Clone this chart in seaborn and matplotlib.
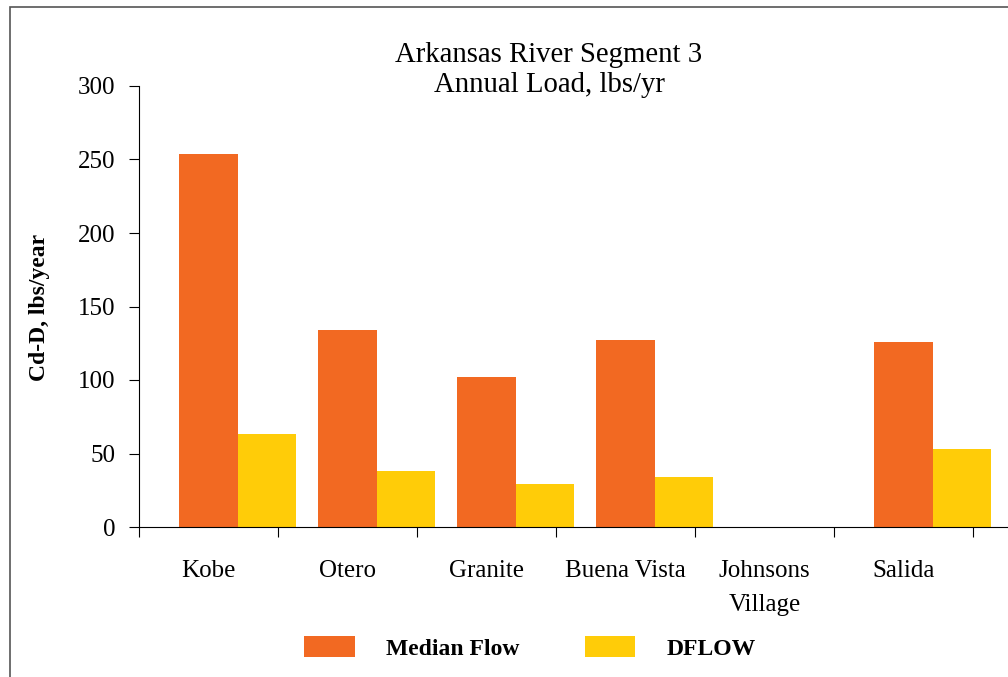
import numpy as np
import pandas as pd
import matplotlib
matplotlib.use("Agg")
import matplotlib.pyplot as plt
from matplotlib.patches import Patch, Rectangle
import seaborn as sns

# Annual cadmium (dissolved) load per monitoring site
sites = ["Kobe", "Otero", "Granite", "Buena Vista", "Johnsons\nVillage", "Salida"]
median_flow = [254, 134, 102, 127, np.nan, 126]
dflow = [63, 38, 29.5, 34, np.nan, 53]
series_names = ["Median Flow", "DFLOW"]
series_colors = ["#F26922", "#FFCC08"]
y_ticks = [0, 50, 100, 150, 200, 250, 300]

sns.set_theme(style="ticks")
plt.rcParams["font.family"] = ["Liberation Serif", "DejaVu Serif"]
plt.rcParams["text.color"] = "black"
plt.rcParams["xtick.color"] = "black"
plt.rcParams["ytick.color"] = "black"
plt.rcParams["xtick.labelcolor"] = "black"
plt.rcParams["ytick.labelcolor"] = "black"

W, H = 1008, 677
fig = plt.figure(figsize=(W / 100, H / 100), dpi=100)
ax = fig.add_axes([139 / W, 1 - 527 / H, (1112 - 139) / W, 441 / H])

bar_w = 0.42
pos = np.arange(len(sites))
frames = []
for k, (name, vals) in enumerate(zip(series_names, [median_flow, dflow])):
    frames.append(pd.DataFrame({"pos": pos + k * bar_w, "value": vals, "series": name}))
df = pd.concat(frames, ignore_index=True)

for name, color in zip(series_names, series_colors):
    sub = df[df["series"] == name].dropna()
    sns.barplot(data=sub, x="pos", y="value", native_scale=True, color=color,
                width=bar_w, linewidth=0, saturation=1, errorbar=None, ax=ax)

ax.set_xlim(-0.5, 6.5)
ax.set_ylim(0, 300)
ax.set_yticks(y_ticks)
ax.set_yticklabels([str(v) for v in y_ticks], fontsize=18)
ax.set_xticks(np.arange(-0.5, 7, 1))
ax.set_xticklabels([])
ax.set_xticks(pos, minor=True)
ax.set_xticklabels(sites, minor=True, fontsize=18, linespacing=1.72)
ax.tick_params(axis="x", which="major", length=7, width=0.8, color="black", direction="out")
ax.tick_params(axis="x", which="minor", length=0, pad=23.5)
ax.tick_params(axis="y", length=7, width=0.8, color="black", pad=10, direction="out")
ax.set_xlabel("")
ax.set_ylabel("")
for s in ["top", "right"]:
    ax.spines[s].set_visible(False)
for s in ["left", "bottom"]:
    ax.spines[s].set_linewidth(0.8)
    ax.spines[s].set_color("black")

fig.text(549 / W, 1 - 70 / H, "Arkansas River Segment 3\nAnnual Load, lbs/yr",
         ha="center", va="center", fontsize=20.7, linespacing=1.25)
fig.text(40 / W, 1 - 307 / H, "Cd-D, lbs/year", rotation=90, ha="center", va="center",
         fontsize=17, fontweight="bold")

handles = [Patch(facecolor=c, edgecolor="none") for c in series_colors]
fig.legend(handles, series_names, loc="center", bbox_to_anchor=(530 / W, 1 - 648 / H),
           ncol=2, frameon=False, handlelength=2.15, handleheight=0.97,
           handletextpad=1.32, columnspacing=2.75,
           prop={"family": "Liberation Serif", "weight": "bold", "size": 17})

fig.patches.append(Rectangle((10 / W, -0.1), 1.2, (H - 7) / H + 0.1,
                             transform=fig.transFigure, fill=False,
                             edgecolor="#555555", linewidth=1.2))

fig.savefig("out.png", dpi=100)
